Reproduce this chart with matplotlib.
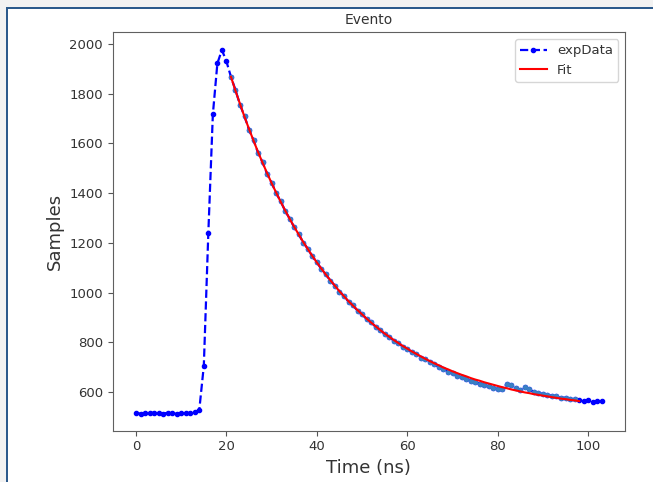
import matplotlib
matplotlib.use("Agg")
import matplotlib.pyplot as plt
from matplotlib.patches import Rectangle

# ---- data ----
time_ns = list(range(0, 104))
samples = [
    515, 513, 516, 514, 517, 515, 513, 516, 514, 512, 515, 514, 516, 518, 528,   # 0-14
    705, 1240, 1717, 1922, 1976, 1930,                                          # 15-20
    1868, 1815, 1756, 1709, 1655, 1613, 1562, 1524, 1477, 1442,                 # 21-30
    1400, 1367, 1328, 1297, 1262, 1234, 1201, 1176, 1145, 1122,                 # 31-40
    1094, 1073, 1047, 1028, 1003, 986, 963, 948, 927, 913,                      # 41-50
    893, 880, 862, 849, 833, 822, 806, 797, 782, 773,                           # 51-60
    759, 752, 738, 731, 719, 711, 701, 694, 682, 677,                           # 61-70
    665, 660, 651, 645, 638, 633, 626, 622, 615, 612,                           # 71-80
    610, 632, 628, 615, 608, 618, 611, 599, 596, 591,                           # 81-90
    589, 583, 582, 577, 576, 571, 570, 566, 563, 566,                           # 91-100
    561, 564, 562,                                                              # 101-103
]
fit_start, fit_end = 21, 97
fit_time = list(range(21, 99))
fit_values = [
    1868, 1812, 1759, 1707, 1658, 1611, 1565, 1522, 1480, 1440,
    1402, 1365, 1330, 1296, 1264, 1233, 1203, 1175, 1147, 1121,
    1096, 1072, 1049, 1027, 1005, 985, 965, 947, 929, 912,
    895, 879, 864, 849, 835, 822, 809, 797, 785, 774,
    763, 753, 743, 733, 724, 715, 707, 698, 691, 683,
    676, 669, 663, 656, 650, 645, 639, 634, 629, 624,
    619, 615, 610, 606, 602, 598, 595, 591, 588, 585,
    582, 579, 576, 573, 571, 568, 566, 563,
]

W, H = 653, 482
fig = plt.figure(figsize=(W / 100, H / 100), dpi=100, facecolor="white")

# screenshot frame
fig.add_artist(Rectangle((0, 1 - 7 / H), 1, 7 / H, transform=fig.transFigure,
                         facecolor="#f2f2f2", edgecolor="none", zorder=0))
fig.add_artist(Rectangle((0, 0), 6 / W, 1, transform=fig.transFigure,
                         facecolor="#f2f2f2", edgecolor="none", zorder=0))
fig.add_artist(Rectangle((6 / W, 1 - 8.5 / H), 1 - 6 / W, 2 / H, transform=fig.transFigure,
                         facecolor="#2c5a8c", edgecolor="none", zorder=1))
fig.add_artist(Rectangle((6 / W, 0), 2 / W, 1 - 6.5 / H, transform=fig.transFigure,
                         facecolor="#2c5a8c", edgecolor="none", zorder=1))

left, right, top, bottom = 112.7, 625, 32.3, 430.7
ax = fig.add_axes([left / W, 1 - bottom / H, (right - left) / W, (bottom - top) / H])

ax.plot(time_ns, samples, "b.--", label="expData", lw=1.6, ms=6)
i0 = time_ns.index(fit_start)
i1 = time_ns.index(fit_end) + 1
ax.plot(time_ns[i0:i1], samples[i0:i1], ".", color="#3a80c4", ms=5.5)
ax.plot(fit_time, fit_values, "-", color="red", lw=1.5, label="Fit")

ax.set_xlim(-5.15, 108.15)
ax.set_ylim(444, 2047)
ax.set_xticks([0, 20, 40, 60, 80, 100])
ax.set_yticks([600, 800, 1000, 1200, 1400, 1600, 1800, 2000])

text_color = "#333333"
for s in ax.spines.values():
    s.set_color("#606060")
ax.tick_params(colors="#555555", labelcolor=text_color, labelsize=9.5)
ax.set_title("Evento", fontsize=10, color=text_color)
ax.set_xlabel("Time (ns)", fontsize=13, color=text_color)
ax.set_ylabel("Samples", fontsize=13, color=text_color)
leg = ax.legend(loc="upper right", fontsize=9.5)
for t in leg.get_texts():
    t.set_color(text_color)

fig.savefig("out.png", dpi=100, facecolor="white")
